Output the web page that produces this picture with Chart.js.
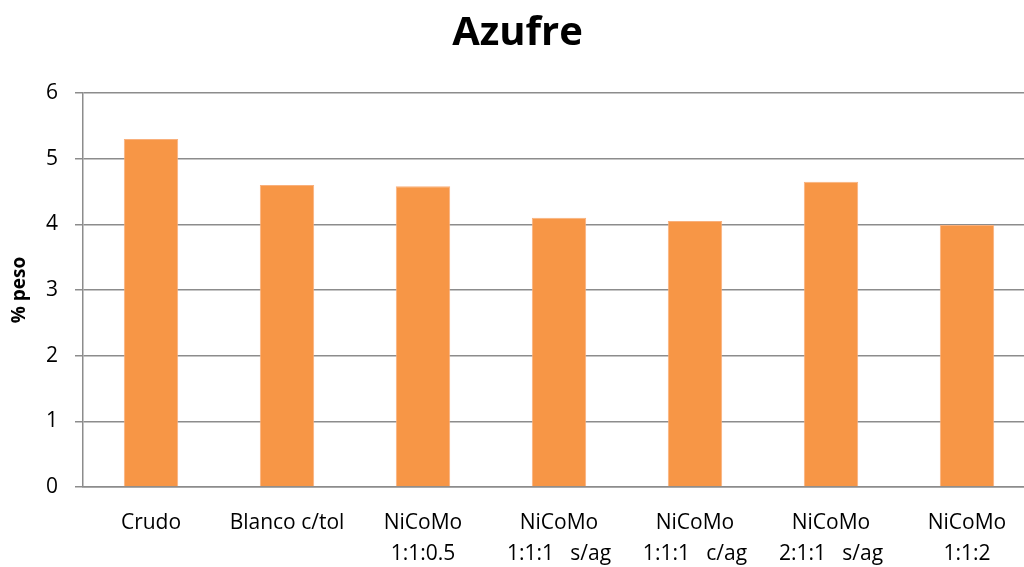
<!DOCTYPE html>
<html>
<head>
<meta charset="utf-8">
<title>Azufre</title>
<script src="https://cdn.jsdelivr.net/npm/chart.js"></script>
<style>
  html, body { margin: 0; padding: 0; background: #fff; }
  #wrap { width: 1024px; height: 567px; overflow: hidden; }
</style>
</head>
<body>
<div id="wrap"><canvas id="grafico" width="1035" height="567"></canvas></div>
<script>
// categorías (dos líneas por etiqueta) y % peso de azufre
const categorias = [
  ['Crudo'],
  ['Blanco c/tol'],
  ['NiCoMo', '1:1:0.5'],
  ['NiCoMo', '1:1:1   s/ag'],
  ['NiCoMo', '1:1:1   c/ag'],
  ['NiCoMo', '2:1:1   s/ag'],
  ['NiCoMo', '1:1:2']
];
const azufre = [5.30, 4.60, 4.58, 4.10, 4.05, 4.65, 3.99];
const ticksY = [0, 1, 2, 3, 4, 5, 6];

const fuente = "'Open Sans', sans-serif";

new Chart(document.getElementById('grafico').getContext('2d'), {
  type: 'bar',
  data: {
    labels: categorias,
    datasets: [{
      label: 'Azufre',
      data: azufre,
      backgroundColor: '#F79646',
      borderColor: '#F9B07C',
      borderWidth: 1,
      categoryPercentage: 1,
      barPercentage: 0.4
    }]
  },
  options: {
    responsive: false,
    animation: false,
    layout: { padding: 0 },
    plugins: {
      legend: { display: false },
      tooltip: { enabled: false },
      title: {
        display: true,
        text: 'Azufre',
        color: '#000',
        font: { family: fuente, size: 40, weight: 'bold', lineHeight: 1 },
        padding: { top: 14, bottom: 39 }
      }
    },
    scales: {
      x: {
        grid: { display: false, drawTicks: false },
        border: { display: true, color: '#8c8c8c', width: 1.5 },
        ticks: {
          color: '#000',
          font: { family: fuente, size: 21, lineHeight: 1.5 },
          padding: 20,
          maxRotation: 0,
          autoSkip: false
        },
        afterFit: s => { s.height = 80; }
      },
      y: {
        min: 0,
        max: 6,
        afterBuildTicks: s => { s.ticks = ticksY.map(v => ({ value: v })); },
        grid: { color: '#8c8c8c', lineWidth: 1.5, tickLength: 8 },
        border: { display: true, color: '#8c8c8c', width: 1.5 },
        ticks: {
          color: '#000',
          font: { family: fuente, size: 21 },
          padding: 17
        },
        title: {
          display: true,
          text: '% peso',
          color: '#000',
          font: { family: fuente, size: 19, weight: 'bold', lineHeight: 1.2 },
          padding: { top: 8, bottom: 0 }
        },
        afterFit: s => { s.width = 83; }
      }
    }
  }
});
</script>
</body>
</html>
